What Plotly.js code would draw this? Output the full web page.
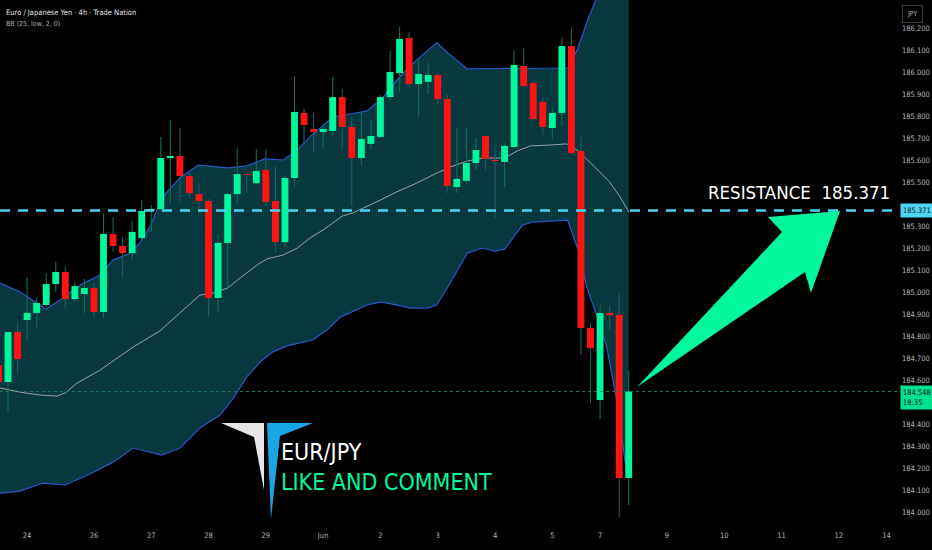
<!DOCTYPE html>
<html>
<head>
<meta charset="utf-8">
<script src="https://cdn.plot.ly/plotly-3.0.1.min.js"></script>
<style>
  html, body { margin: 0; background: #000; }
  #chart { width: 932px; height: 550px; }
</style>
</head>
<body>
<div id="chart"></div>
<script>
// EUR/JPY 4h bars, bar -1 is the one cut by the left edge
const firstBar = -1;
const open = [184.668, 184.591, 184.818, 184.873, 184.905, 184.941, 185.036, 185.091, 184.968, 184.991,
  185.018, 184.909, 185.264, 185.209, 185.177, 185.245, 185.368, 185.377, 185.609, 185.618,
  185.527, 185.445, 185.414, 184.973, 185.223, 185.445, 185.536, 185.495, 185.555, 185.414,
  185.227, 185.518, 185.814, 185.741, 185.727, 185.732, 185.886, 185.750, 185.609, 185.673,
  185.705, 185.886, 185.995, 186.155, 185.945, 185.955, 185.986, 185.877, 185.477, 185.505,
  185.586, 185.709, 185.600, 185.591, 185.659, 186.027, 185.950, 185.864, 185.745, 185.814,
  186.118, 185.641, 184.836, 184.509, 184.905, 184.895, 184.155];
const high = [184.691, 184.820, 184.859, 185.068, 184.973, 185.086, 185.136, 185.114, 185.045, 185.059,
  185.041, 185.359, 185.341, 185.250, 185.323, 185.418, 185.395, 185.705, 185.782, 185.745,
  185.545, 185.495, 185.423, 185.264, 185.450, 185.655, 185.541, 185.650, 185.645, 185.573,
  185.527, 185.982, 185.832, 185.814, 185.750, 185.977, 185.923, 185.791, 185.818, 185.786,
  185.895, 186.095, 186.205, 186.182, 186.059, 186.041, 185.995, 185.900, 185.745, 185.745,
  185.700, 185.712, 185.668, 185.677, 186.100, 186.109, 185.959, 185.886, 185.836, 186.155,
  186.205, 185.705, 184.859, 184.941, 184.936, 184.995, 184.641];
const low = [184.464, 184.450, 184.632, 184.782, 184.841, 184.932, 185.000, 184.927, 184.955, 184.905,
  184.886, 184.882, 185.182, 185.064, 185.150, 185.236, 185.273, 185.370, 185.405, 185.405,
  185.427, 185.359, 184.891, 184.909, 185.018, 185.400, 185.450, 185.491, 185.391, 185.182,
  185.205, 185.477, 185.677, 185.632, 185.655, 185.714, 185.650, 185.391, 185.577, 185.645,
  185.700, 185.868, 185.909, 185.932, 185.795, 185.900, 185.850, 185.450, 185.450, 185.486,
  185.555, 185.555, 185.336, 185.477, 185.655, 185.932, 185.782, 185.714, 185.695, 185.755,
  185.630, 184.714, 184.495, 184.423, 184.827, 183.977, 184.032];
const close = [184.591, 184.818, 184.695, 184.905, 184.950, 185.036, 185.091, 184.968, 185.027, 185.018,
  184.909, 185.264, 185.209, 185.177, 185.273, 185.368, 185.377, 185.609, 185.618, 185.527,
  185.450, 185.414, 184.973, 185.223, 185.445, 185.536, 185.532, 185.550, 185.409, 185.227,
  185.518, 185.818, 185.759, 185.727, 185.741, 185.886, 185.750, 185.609, 185.695, 185.709,
  185.886, 186.000, 186.150, 185.945, 185.991, 185.986, 185.877, 185.482, 185.514, 185.586,
  185.645, 185.605, 185.595, 185.664, 186.032, 185.936, 185.786, 185.750, 185.814, 186.118,
  185.632, 184.836, 184.745, 184.905, 184.895, 184.155, 184.548];

// Bollinger bands (25, low, 2), x in bar units
const upperX = [-0.84, 1.26, 3.98, 5.45, 7.54, 9.63, 11.0, 12.8, 13.8, 14.9, 16.2, 18.0, 19.9, 23.0, 25.0,
  26.9, 28.8, 30.3, 31.6, 34.0, 35.8, 37.6, 39.3, 41.0, 42.8, 44.9, 46.3, 48.1, 58.6, 59.6, 60.7,
  62.0, 63.0, 64.1, 65.0];
const upper = [185.041, 185.000, 184.923, 184.964, 185.032, 185.077, 185.145, 185.177, 185.223, 185.300,
  185.432, 185.518, 185.577, 185.564, 185.573, 185.605, 185.600, 185.645, 185.705, 185.795, 185.809,
  185.823, 185.886, 185.977, 186.055, 186.132, 186.077, 186.014, 186.018, 186.100, 186.236, 186.373,
  186.464, 186.555, 186.645];
const basisX = [-0.84, 1.26, 3.35, 5.13, 5.97, 7.23, 9.63, 13.1, 15.9, 18.0, 20.1, 21.5, 23.0, 24.3, 26.1,
  27.1, 28.8, 30.3, 31.6, 33.0, 35.0, 36.1, 39.0, 40.7, 42.8, 44.5, 46.3, 48.1, 49.7, 52.0, 53.3,
  54.7, 56.8, 58.5, 59.6, 60.9, 63.0, 64.1, 65.0];
const basis = [184.564, 184.545, 184.532, 184.527, 184.541, 184.586, 184.645, 184.750, 184.823, 184.905,
  184.986, 184.995, 185.018, 185.064, 185.123, 185.150, 185.168, 185.200, 185.245, 185.282, 185.345,
  185.359, 185.418, 185.455, 185.495, 185.532, 185.568, 185.595, 185.609, 185.609, 185.641, 185.664,
  185.668, 185.673, 185.645, 185.591, 185.500, 185.432, 185.364];
const lowerX = [-0.84, 1.26, 3.66, 5.97, 8.59, 11.0, 13.1, 16.1, 18.0, 20.1, 22.2, 23.6, 25.0, 26.4, 27.7,
  29.2, 31.9, 33.4, 34.8, 37.6, 39.0, 40.3, 42.1, 43.9, 44.9, 46.3, 48.1, 49.7, 51.0, 52.0, 53.9,
  55.0, 58.6, 59.7, 60.6, 61.7, 62.7, 63.8, 64.6, 65.0];
const lower = [184.086, 184.095, 184.132, 184.123, 184.173, 184.227, 184.291, 184.259, 184.291, 184.382,
  184.441, 184.518, 184.614, 184.682, 184.727, 184.755, 184.782, 184.827, 184.886, 184.941, 184.955,
  184.945, 184.927, 184.927, 184.941, 185.041, 185.177, 185.200, 185.186, 185.195, 185.305, 185.318,
  185.327, 185.191, 185.023, 184.886, 184.750, 184.495, 184.236, 184.159];

// day labels on the time axis (bar index where each day starts)
const dayTicks = [2, 9, 15, 21, 27, 33, 39, 45, 51, 57, 62, 69, 75, 81, 87, 92];
const dayLabels = ['24', '26', '27', '28', '29', 'Jun', '2', '3', '4', '5', '7', '9', '10', '11', '12', '14'];
// price scale labels (184.500 and 185.400 sit under the price tags)
const priceTicks = [184.0, 184.1, 184.2, 184.3, 184.4, 184.6, 184.7, 184.8, 184.9, 185.0, 185.1,
  185.2, 185.3, 185.5, 185.6, 185.7, 185.8, 185.9, 186.0, 186.1, 186.2];

const resistance = 185.371;
const lastPrice = 184.548;
const countdown = '18:35';

const xRange = [-0.84, 93.2];
const yRange = [183.964, 186.327];
const plotW = 898, plotH = 520;

const UP = '#00f79b', DOWN = '#ff1414';
const WICK_UP = '#0d6e4b', WICK_DN = '#1b5c63';
const FONT = '"DejaVu Sans Condensed", "DejaVu Sans", sans-serif';

const bars = open.map((_, i) => i + firstBar);
const isUp = open.map((o, i) => close[i] >= o);

// band outlines as data-space paths, drawn under the candles
const linePath = (xs, ys) => 'M ' + xs.map((x, i) => x + ',' + ys[i]).join(' L ');
const bandPath = linePath(upperX.concat(lowerX.slice().reverse()),
  upper.concat(lower.slice().reverse())) + ' Z';

// pixel -> paper helper for the drawn overlays (arrow, logo)
const pp = (pts) => 'M ' + pts.map(p => (p[0] / plotW).toFixed(4) + ',' + (1 - p[1] / plotH).toFixed(4)).join(' L ') + ' Z';

const data = [
  { // wicks
    x: bars, base: low, y: high.map((h, i) => h - low[i]),
    type: 'bar', width: 0.12, hoverinfo: 'skip',
    marker: {color: isUp.map(u => u ? WICK_UP : WICK_DN), line: {width: 0}}
  },
  { // bodies
    x: bars,
    base: open.map((o, i) => Math.min(o, close[i])),
    y: open.map((o, i) => Math.max(Math.abs(close[i] - o), 0.004)),
    type: 'bar', width: 0.72,
    marker: {color: isUp.map(u => u ? UP : DOWN), line: {width: 0}}
  },
  {x: xRange, y: [lastPrice, lastPrice], type: 'scatter', mode: 'lines',
   line: {color: '#1c7a56', width: 1, dash: 'dot'}},
  {x: xRange, y: [resistance, resistance], type: 'scatter', mode: 'lines',
   line: {color: '#4dd4f0', width: 2.5, dash: '10px,8px'}}
];

const layout = {
  width: 932, height: 550,
  paper_bgcolor: '#000', plot_bgcolor: '#000',
  margin: {l: 0, r: 34, t: 0, b: 30},
  showlegend: false,
  barmode: 'overlay',
  xaxis: {
    range: xRange, tickvals: dayTicks, ticktext: dayLabels,
    showgrid: false, zeroline: false, showline: false, ticks: '', ticklabelstandoff: 9,
    tickfont: {family: FONT, size: 7.5, color: '#b2b5be'}
  },
  yaxis: {
    side: 'right', range: yRange, tickvals: priceTicks, tickformat: '.3f',
    showgrid: false, zeroline: false, showline: false, ticks: '', ticklabelstandoff: 3,
    tickfont: {family: FONT, size: 7.5, color: '#b2b5be'}
  },
  shapes: [
    {type: 'path', xref: 'x', yref: 'y', layer: 'below', line: {width: 0},
     fillcolor: '#06383e', path: bandPath},
    {type: 'path', xref: 'x', yref: 'y', layer: 'below', line: {color: '#2a58c8', width: 1.2},
     path: linePath(upperX, upper)},
    {type: 'path', xref: 'x', yref: 'y', layer: 'below', line: {color: '#2a58c8', width: 1.2},
     path: linePath(lowerX, lower)},
    {type: 'path', xref: 'x', yref: 'y', layer: 'below', line: {color: '#9a9ea4', width: 1},
     path: linePath(basisX, basis)},
    {type: 'path', xref: 'paper', yref: 'paper', line: {width: 0}, fillcolor: '#00f79b',
     path: pp([[637, 387], [782, 232], [768, 217], [840, 211], [811, 293], [805, 272]])},
    {type: 'path', xref: 'paper', yref: 'paper', line: {width: 0}, fillcolor: '#e6e6e6',
     path: pp([[221, 423], [264, 423], [264, 490], [254, 437]])},
    {type: 'path', xref: 'paper', yref: 'paper', line: {width: 0}, fillcolor: '#1aa6e6',
     path: pp([[267, 423], [313, 423], [280, 436], [271, 519]])}
  ],
  annotations: [
    {text: 'Euro / Japanese Yen · 4h · Trade Nation', xref: 'paper', yref: 'paper',
     x: 0, y: 1, xshift: 4, yshift: -6, xanchor: 'left', yanchor: 'top', showarrow: false,
     font: {family: FONT, size: 7.5, color: '#e0e3eb'}},
    {text: 'BB (25, low, 2, 0)', xref: 'paper', yref: 'paper',
     x: 0, y: 1, xshift: 4, yshift: -18, xanchor: 'left', yanchor: 'top', showarrow: false,
     font: {family: FONT, size: 7, color: '#b2b5be'}},
    {text: 'RESISTANCE\u00a0\u00a0' + resistance.toFixed(3), xref: 'paper', yref: 'paper',
     x: 799 / plotW, y: 1 - 192 / plotH, xanchor: 'center', yanchor: 'middle', showarrow: false,
     font: {family: FONT, size: 18.5, color: '#ffffff'}},
    {text: 'EUR/JPY', xref: 'paper', yref: 'paper',
     x: 279 / plotW, y: 1 - 452 / plotH, xanchor: 'left', yanchor: 'middle', showarrow: false,
     font: {family: FONT, size: 23, color: '#ffffff'}},
    {text: 'LIKE AND COMMENT', xref: 'paper', yref: 'paper',
     x: 279 / plotW, y: 1 - 482 / plotH, xanchor: 'left', yanchor: 'middle', showarrow: false,
     font: {family: FONT, size: 23, color: '#00f79b'}},
    {text: resistance.toFixed(3), xref: 'paper', yref: 'y', x: 1, y: resistance,
     xanchor: 'left', yanchor: 'middle', xshift: 2, showarrow: false,
     bgcolor: '#4fd6f0', borderpad: 2, font: {family: FONT, size: 7.5, color: '#131722'}},
    {text: lastPrice.toFixed(3) + '<br>' + countdown, xref: 'paper', yref: 'y', x: 1, y: lastPrice,
     xanchor: 'left', yanchor: 'top', xshift: 2, yshift: 6, align: 'left', showarrow: false,
     bgcolor: '#00e38e', borderpad: 2, font: {family: FONT, size: 7.5, color: '#131722'}},
    {text: 'JPY', xref: 'paper', yref: 'paper', x: 1, y: 1, xanchor: 'left', yanchor: 'top',
     xshift: 4, yshift: -5, showarrow: false, bordercolor: '#363a45', borderwidth: 1, borderpad: 4,
     font: {family: FONT, size: 7, color: '#b2b5be'}}
  ]
};

Plotly.newPlot('chart', data, layout, {staticPlot: true, displayModeBar: false});
</script>
</body>
</html>
